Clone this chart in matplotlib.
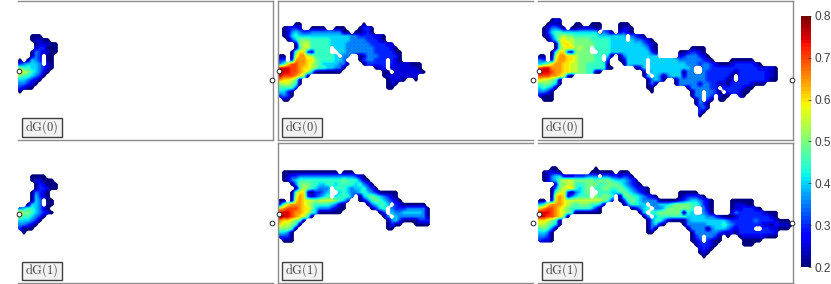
"""Six dG(n) maps on a shared jet scale, two rows by three growing regions."""
import numpy as np
import matplotlib
matplotlib.use("Agg")
import matplotlib.pyplot as plt
from matplotlib.colors import ListedColormap
from matplotlib.patches import Rectangle

W, H = 831, 284
CELL = 4  # map cell size, px
LEVELS = "0123456789abc"  # 0.20 .. 0.80 in steps of 0.05

# rows of map cells, '.' is no data, spaces only group columns by ten
TOP_1 = [
    "", "", "", "", "...000", "...01100", "....011100", "....122000", "...0321100",
    "...032.00", "0.0432.00", "234443.10", "655443210", "87654310", "6554320",
    "443210", "33210", "2100", "0.",
]
BOT_1 = [
    "", "", "...0000", "...011000", "....021000", "....022100", "...03210", "...04210",
    "...043.00", "..0443.00", "34554310", "866543210", "6554320", "444320", "33210",
    "2000", ".0",
]
TOP_2 = [
    "",
    "....00.... .......... .0.",
    ".01221..00 00..000... 0220",
    ".013432233 33333300.0 0120",
    ".014544444 4444444433 2222110",
    "..02466655 5554444433 3322210",
    "....067755 5554444333 333222211",
    "....057755 555.444333 3333222210",
    "...0688215 555..44333 3333222220 0",
    "00.0799775 55554.33.. 0133322222 0",
    "22.1999886 5555443... 0233222.21 0",
    "358aa99876 54444330.. .022222.21 111000",
    "bbbaa98876 5544330... ....012.11 111110",
    "cbbaa98740 000000.... ......00.1 1111110",
    "baaa9860.. .......... ......0111 11111",
    "988760.... .......... .......011 10..0",
    "677650.... .......... .......010",
    "55552..... .......... .......00.",
    "4420", "2320", ".00",
]
BOT_2 = [
    "",
    ".000000000 00000.000.",
    ".012233333 3333333332 10",
    ".013455555 5555556555 310",
    "...0366655 4455455554 5320",
    "....057654 333.555434 45320",
    "...0688102 234..45433 4543200000",
    "...0798212 345.45553. 0456543210",
    "00.0898776 77776542.. 0135654321 0",
    "2689998765 5554310... ..034554.2 1000000",
    "89aaa98864 3332100... ...0245.32 22333330",
    "bbba998754 000000.... .....02.43 34444430",
    "cbba98750. .......... ......03.4 33333330",
    "9887650... .......... .......034 20000222",
    "877650.... .......... .......020 0...0000",
    "66650..... .......... .......00.",
    "4430", "2220", ".000",
]
TOP_3 = [
    "...011",
    "..0110...0 0..000.... 000",
    ".013320.00 111100.... 0110",
    ".024554444 44444.320. 1210",
    ".013567665 5555544444 44.3210",
    "..02478776 6665555544 44.433210",
    "....068876 6666555544 4444443210",
    "....067886 766.555544 4444444310 ........00 00",
    "...0588216 666..55544 4444444420 .....00122 10",
    "00.0799887 666655.40. 0344444444 .....12333 210",
    "32.1899887 666655.2.. 0144444.44 4444433333 3210....00 0000",
    "4568998877 66555550.. .044444.44 4444444333 2332100012 222210",
    "abb9998877 665555500. ....014.44 444444443. .332222222 2222211110",
    "bbba998877 665500.... ......0.44 444444033. .322222220 2222222110",
    "aaa998710. .......... ......04.4 3034441333 332222220. 2222222110",
    "877650.... .......... .......034 30..033333 332222201. 2222222100",
    "566540.... .......... .......030 ....033333 1332201022 2221000",
    "45430..... .......... .......00. .......033 33322.2222 2100",
    "3320...... .......... ........0. ........03 3.3320.222 100",
    "1000...... .......... .......... ........03 3.32.100.. 10",
    ".000...... .......... .......... .........0 3.20.00...",
    ".......... .......... .......... .........0 320",
    ".......... .......... .......... .......... 230",
    ".......... .......... .......... .......... 20",
    ".......... .......... .......... .......... 0",
]
BOT_3 = [
    "...00..... ....0",
    ".01110.... ...000000. 000",
    ".013441112 22333.3322 1220",
    ".013467776 6666566654 44321",
    "....166775 5566655666 543210",
    "...0367885 456.556655 65432110",
    "...0678203 456..55544 56543210.. .....00000",
    "...0898134 555.65665. 0565543210 .....01222 10",
    "00.1898777 777777652. 0256543333 0000012344 3210....00 0000",
    "4589998765 6665541... .035544.33 4445666655 4210....01 1100",
    "89aa987655 555420.... ...01345.3 346666665. .310....01 122210",
    "bbba987650 000000.... .....04.55 666666054. .320....13 2222221000",
    "bbaa9860.. .......... ......03.4 5555555444 4433210001 2222222210",
    "887650.... .......... .......035 5310000344 4444444322 2222322221 000",
    "776540.... .......... .......034 10....0333 3344445432 2222221102 1110",
    "56530..... .......... .......030 .......033 3303444321 2222..2211 000",
    "4430...... .......... .......00. ........03 3333321110 2222222221",
    "3320...... .......... .......... ........02 3.3320.0.. 0111111000",
    "2110...... .......... .......... ........01 2.2100.... .00000",
    ".......... .......... .......... .........0 22210..... .000",
    ".......... .......... .......... .......... 1210",
    ".......... .......... .......... .......... 010",
    ".......... .......... .......... .......... .0",
]

PANEL_LEFT = [18, 278, 538]
PANEL_RIGHT = [273, 533, 793]
ROW_FRAME = [(0.5, 139.5), (143, 282.5)]
ROW_GRID_TOP = [18, 167]
ROW_MARKER_Y = [(70.7, 80), (213.7, 223.3)]
ROW_BOX = [(118.3, 136.7), (261.5, 279.5)]
LABELS = ["dG(0)", "dG(1)"]
MAPS = [[TOP_1, TOP_2, TOP_3], [BOT_1, BOT_2, BOT_3]]
# sides drawn per panel: row, then column
SIDES = [
    [("top", "right", "bottom"), ("top", "left", "bottom"), ("top", "right", "bottom")],
    [("bottom",), ("top", "left", "bottom"), ("top", "right", "bottom")],
]
CB_TICKS = [0.2, 0.3, 0.4, 0.5, 0.6, 0.7, 0.8]

GREY = "#8c8c8c"
TEXT = "#404040"


def px_axes(fig, x0, x1, y0, y1):
    """Axes placed in image pixels, y down."""
    return fig.add_axes([x0 / W, 1 - y1 / H, (x1 - x0) / W, (y1 - y0) / H])


def decode(rows):
    rows = [r.replace(" ", "") for r in rows]
    n = max(len(r) for r in rows)
    out = np.full((len(rows), n), np.nan)
    for i, r in enumerate(rows):
        for j, ch in enumerate(r):
            if ch != ".":
                out[i, j] = 0.2 + 0.05 * LEVELS.index(ch)
    return out


def spread(z):
    """Pad gaps with the mean of nearby cells so the colour layer has no holes."""
    z = np.pad(z, 1, constant_values=np.nan)
    while np.isnan(z).any():
        stack = np.array([np.roll(z, 1, 0), np.roll(z, -1, 0), np.roll(z, 1, 1), np.roll(z, -1, 1)])
        near = np.where(np.isnan(stack), 0, stack).sum(0)
        n = (~np.isnan(stack)).sum(0)
        fill = np.isnan(z) & (n > 0)
        z[fill] = near[fill] / n[fill]
    return z


def veil_cmap():
    """White with a steep alpha step, so resampled holes keep a crisp edge."""
    rgba = np.ones((256, 4))
    rgba[:, 3] = np.clip((np.linspace(0, 1, 256) - 0.36) / 0.16, 0, 1)
    return ListedColormap(rgba)


def main():
    fig = plt.figure(figsize=(W / 100, H / 100), dpi=100)
    cmap = plt.get_cmap("jet", 64)
    veil = veil_cmap()
    im = None
    for r in range(2):
        y0, y1 = ROW_FRAME[r]
        for c in range(3):
            x0, x1 = PANEL_LEFT[c], PANEL_RIGHT[c]
            ax = px_axes(fig, x0, x1, y0, y1)
            ax.set_xticks([])
            ax.set_yticks([])
            for name, sp in ax.spines.items():
                sp.set_visible(name in SIDES[r][c])
                sp.set_color(GREY)
                sp.set_linewidth(1.0)

            z = decode(MAPS[r][c])
            gy = ROW_GRID_TOP[r]
            # one cell of margin all round, so the edge of the map fades out too
            ext = (x0 - CELL, x0 + (z.shape[1] + 1) * CELL, gy + (z.shape[0] + 1) * CELL, gy - CELL)
            im = ax.imshow(spread(z), cmap=cmap, vmin=0.2, vmax=0.8, interpolation="bilinear", aspect="auto",
                           extent=ext)
            holes = np.isnan(np.pad(z, 1, constant_values=np.nan)) * 1.0
            ax.imshow(holes, cmap=veil, vmin=0, vmax=1, interpolation="bilinear", aspect="auto", extent=ext)
            ax.set_xlim(x0, x1)
            ax.set_ylim(y1, y0)

            my0, my1 = ROW_MARKER_Y[r]
            ax.plot([x0 + 0.7, x1 - 0.5], [my0, my1], ls="none", marker="o", ms=3.4, mfc="white",
                    mec="#262626", mew=0.7, clip_on=False, zorder=5)

            b0, b1 = ROW_BOX[r]
            ax.add_patch(Rectangle((x0 + 3.7, b0), 40.6, b1 - b0, fc="#f2f2f2", ec="#404040", lw=1.0, zorder=6))
            ax.text(x0 + 24, (b0 + b1) / 2, r"$\mathrm{%s}$" % LABELS[r], fontsize=9, color=TEXT,
                    ha="center", va="center", zorder=7)

    cax = px_axes(fig, 800.5, 810.5, 16, 267)
    cb = fig.colorbar(im, cax=cax, ticks=CB_TICKS)
    cb.outline.set_visible(False)
    cb.ax.set_yticklabels(["%.1f" % t for t in CB_TICKS])
    cb.ax.tick_params(direction="in", length=2, width=0.5, color="#262626", pad=3, labelsize=8.6, labelcolor=TEXT)
    for lab in cb.ax.get_yticklabels():
        lab.set_fontfamily("Liberation Sans")

    fig.savefig("out.png", dpi=100)


if __name__ == "__main__":
    plt.rcParams["mathtext.fontset"] = "cm"
    main()
